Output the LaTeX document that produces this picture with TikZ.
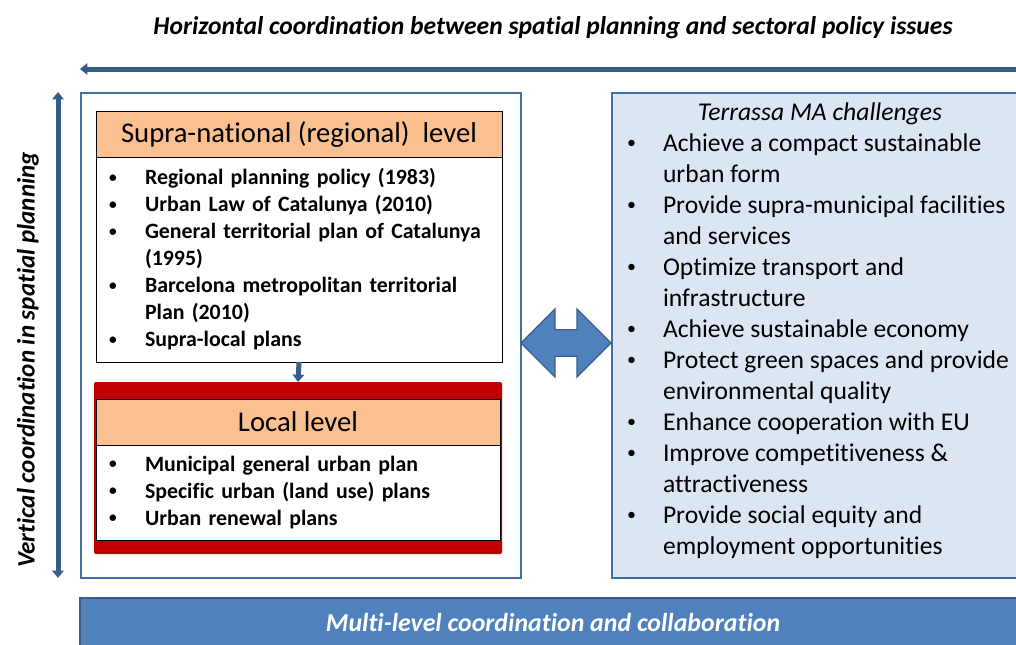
\documentclass[tikz,border=0pt]{standalone}
\usepackage{fontspec}
\setmainfont{Carlito}[Ligatures=NoCommon]
\usepackage{tikz}
\usetikzlibrary{arrows.meta,positioning,shapes.arrows}
\definecolor{peach}{HTML}{FAC090}
\definecolor{framered}{HTML}{C00000}
\definecolor{paleblue}{HTML}{DCE6F2}
\definecolor{barblue}{HTML}{4F81BD}
\definecolor{edgeblue}{HTML}{41719C}
\definecolor{darkblue}{HTML}{385D8A}
\newcommand{\bitem}{\makebox[27pt][l]{\raisebox{0.12em}{\scalebox{0.7}{\textbullet}}}}
\newcommand{\bcont}{\hspace*{27pt}}

\begin{document}
\begin{tikzpicture}[
  x=0.75pt, y=-0.75pt,
  every node/.style={inner sep=0pt, outer sep=0pt},
  frame/.style={draw=edgeblue, line width=1.9pt, anchor=north west},
  head/.style={draw=black, line width=0.6pt, fill=peach, minimum height=34.5pt, font=\fontsize{21.5}{24}\selectfont},
  plans/.style={draw=black, line width=0.6pt, fill=white, align=left, inner xsep=9.75pt, font=\bfseries\fontsize{16.4}{20.25}\selectfont},
  arr/.style={-{Triangle[length=5.5pt, width=8.5pt]}, line width=3.75pt, draw=darkblue},
  darr/.style={{Triangle[length=5.5pt, width=8.5pt]}-{Triangle[length=5.5pt, width=8.5pt]}, line width=3.75pt, draw=darkblue}
]
\useasboundingbox (0,0) rectangle (1016,644);
% axis titles and arrows
\node[font=\bfseries\itshape\fontsize{19.2}{22}\selectfont] (htitle) at (553,28) {Horizontal coordination between spatial planning and sectoral policy issues};
\node[rotate=90, font=\bfseries\itshape\fontsize{18.8}{22}\selectfont] (vtitle) at (28,360) {Vertical coordination in spatial planning};
\coordinate (hstart) at (1030,69);
\coordinate (hend) at (80,69);
\coordinate (vtop) at (58,92);
\coordinate (vbot) at (58,578);
\draw[arr] (hstart) -- (hend);
\draw[darr] (vbot) -- (vtop);

% planning levels
\node[frame, minimum width=330pt, minimum height=363.75pt] (spatial) at (81,93) {};
\node[head, anchor=north west, minimum width=304.5pt] (supra) at (96,111) {Supra-national (regional)\ \ level};
\node[plans, text width=285pt, minimum height=153.75pt, below=0pt of supra] (supralist) {%
\bitem Regional planning policy (1983)\\
\bitem Urban Law of Catalunya (2010)\\
\bitem General territorial plan of Catalunya\\
\bcont (1995)\\
\bitem Barcelona metropolitan territorial\\
\bcont Plan (2010)\\
\bitem Supra-local plans};
\node[fill=framered, rounded corners=1.5pt, anchor=north west, minimum width=306pt, minimum height=129pt] (localframe) at (94,382) {};
\node[head, minimum width=303pt, below=12.75pt of localframe.north] (local) {Local level};
\node[plans, text width=283.5pt, minimum height=71.25pt, below=0pt of local] (locallist) {%
\bitem Municipal general urban plan\\
\bitem Specific urban (land use) plans\\
\bitem Urban renewal plans};
\draw[arr] (supralist.south) -- (localframe.north);

% challenges
\node[frame, fill=paleblue, minimum width=315pt, minimum height=363.75pt] (challenges) at (612,93) {};
\node[font=\itshape\fontsize{19.2}{22}\selectfont] (chtitle) at (820,114) {Terrassa MA challenges};
\node[anchor=north west, align=left, font=\fontsize{19.2}{23.25}\selectfont] (chlist) at (627,134) {%
\bitem Achieve a compact sustainable\\
\bcont urban form\\
\bitem Provide supra-municipal facilities\\
\bcont and services\\
\bitem Optimize transport and\\
\bcont infrastructure\\
\bitem Achieve sustainable economy\\
\bitem Protect green spaces and provide\\
\bcont environmental quality\\
\bitem Enhance cooperation with EU\\
\bitem Improve competitiveness \&\\
\bcont attractiveness\\
\bitem Provide social equity and\\
\bcont employment opportunities};
\node[double arrow, double arrow head extend=15.6pt, minimum width=50pt, minimum height=67.5pt, inner ysep=9.4pt, inner xsep=0pt, fill=barblue, draw=darkblue, line width=1pt] (link) at (566,343) {};

% bottom bar
\node[anchor=north west, fill=barblue, draw=darkblue, line width=1.9pt, minimum width=709.5pt, minimum height=37.5pt, text=white, font=\bfseries\itshape\fontsize{19.4}{22}\selectfont] (multibar) at (80,598) {Multi-level coordination and collaboration};
\end{tikzpicture}
\end{document}
